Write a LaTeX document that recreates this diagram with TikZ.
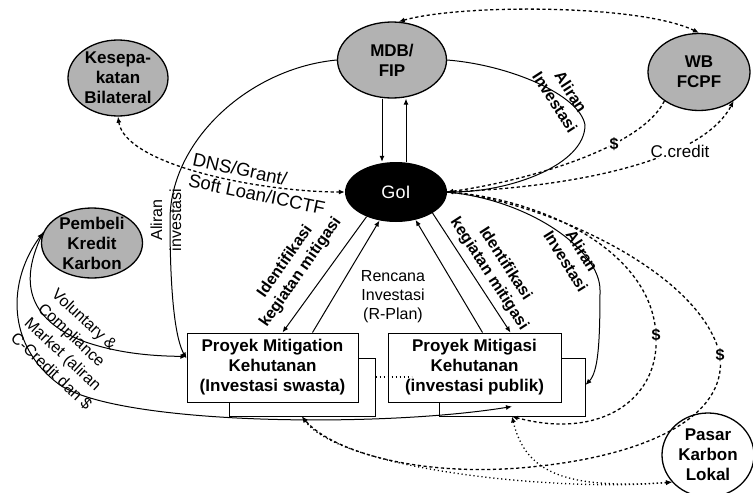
\documentclass[tikz,border=0pt]{standalone}
\usepackage{fontspec}
\setmainfont{Liberation Sans}
\usetikzlibrary{shapes.geometric,arrows.meta,positioning}

\begin{document}
\begin{tikzpicture}[x=1pt, y=-1pt, >={Latex[length=6pt,width=5pt]},
  bubble/.style={ellipse, draw, line width=1.3pt, fill=black!30, inner xsep=0pt, inner ysep=-5pt, align=center, font=\fontsize{17}{20}\selectfont\bfseries},
  proj/.style={draw, line width=1pt, fill=white, minimum width=171pt, minimum height=69pt, inner sep=0pt, align=center, font=\fontsize{17}{20}\selectfont\bfseries},
  projback/.style={draw, line width=1pt, fill=white, minimum width=146pt, minimum height=58pt, inner sep=0pt},
  flow/.style={line width=1pt},
  money/.style={line width=1.3pt, dash pattern=on 3.2pt off 2.6pt},
  dotline/.style={line width=1.3pt, dash pattern=on 1.2pt off 2.8pt},
  lbl/.style={align=center, inner sep=1pt, font=\fontsize{16}{19}\selectfont},
  lblb/.style={align=center, inner sep=1pt, font=\fontsize{16}{19}\selectfont\bfseries},
  dollar/.style={fill=white, inner sep=1pt, font=\fontsize{16}{19}\selectfont\bfseries}]
\useasboundingbox (0,0) rectangle (753,493);

% actors
\node[bubble, minimum width=100pt, minimum height=76pt] (kes) at (118,78) {Kesepa-\\katan\\Bilateral};
\node[bubble, minimum width=109pt, minimum height=76pt] (mdb) at (392,60) {MDB/\\FIP};
\node[bubble, minimum width=102pt, minimum height=77pt] (wb) at (699,72) {WB\\FCPF};
\node[bubble, minimum width=101pt, minimum height=70pt] (pem) at (92,243) {Pembeli\\Kredit\\Karbon};
\node[ellipse, fill=black, minimum width=102pt, minimum height=60pt, text=white, font=\fontsize{18}{20}\selectfont] (goi) at (396,192) {GoI};
\node[ellipse, draw, line width=1.3pt, fill=white, minimum width=92pt, minimum height=84pt, inner sep=0pt, align=center, font=\fontsize{17}{20}\selectfont\bfseries] (pasar) at (708,455) {Pasar\\Karbon\\Lokal};

% projects
\node[projback] (swastaB) at (302,387) {};
\node[projback] (publikB) at (512,387) {};
\node[proj] (swasta) at (272.5,367.5) {Proyek Mitigation\\Kehutanan\\(Investasi swasta)};
\node[proj, minimum width=173pt] (publik) at (474.5,367.5) {Proyek Mitigasi\\Kehutanan\\(investasi publik)};

% labels
\node[lbl, rotate=-12, align=left, font=\fontsize{18.5}{21}\selectfont] (dns) at (259,184) {DNS/Grant/\\Soft Loan/ICCTF};
\node[lbl, rotate=90] (al1) at (166,220) {Aliran\\investasi};
\node[lblb, rotate=-57] (al2) at (563,97) {Aliran\\Investasi};
\node[lblb, rotate=-58] (al3) at (574,256) {Aliran\\Investasi};
\node[lblb, rotate=55] (id1) at (293,267) {Identifikasi\\kegiatan mitigasi};
\node[lblb, rotate=-57] (id2) at (497,269) {Identifikasi\\kegiatan mitigasi};
\node[lbl] (rplan) at (393,297) {Rencana\\Investasi\\(R-Plan)};
\node[lbl, rotate=-43, align=left, font=\fontsize{16}{20}\selectfont] (vol) at (72,349) {Voluntary \&\\Compliance\\Market (aliran\\C-Credit dan \$};

% solid flows
\draw[flow, ->] ([xshift=-10pt]mdb.south) -- ([xshift=-14pt]goi.north);
\draw[flow, ->] ([xshift=10pt]goi.north) -- ([xshift=14pt]mdb.south);
\draw[flow, ->] (mdb.east) .. controls (510,65) and (580,95) .. (585,125) .. controls (585,165) and (510,192) .. (goi.east);
\draw[flow, ->] (goi.east) .. controls (530,200) and (600,250) .. (600,290) .. controls (600,345) and (598,372) .. ([yshift=2pt]publikB.east);
\draw[flow, ->] (mdb.west) .. controls (250,68) and (170,140) .. (170,220) .. controls (170,300) and (176,340) .. ([yshift=9pt]swasta.west);
\draw[flow, ->] (goi.220) -- ([xshift=10pt]swasta.north);
\draw[flow, ->] ([xshift=40pt]swasta.north) -- (goi.240);
\draw[flow, ->] ([xshift=8pt]publik.north) -- (goi.-55);
\draw[flow, ->] (goi.-30) -- ([xshift=36pt]publik.north);
\draw[flow, ->] (pem.168) .. controls (22,275) and (22,315) .. (80,340) .. controls (120,355) and (160,356) .. ([yshift=11pt]swasta.west);
\draw[flow, <->] (pem.168) .. controls (8,280) and (5,345) .. (60,385) .. controls (120,425) and (380,428) .. ([yshift=10pt]publikB.south);

% dashed flows
\draw[money, <->] (mdb.80) .. controls (460,4) and (640,4) .. (wb.north);
\draw[money, <->] (kes.south) .. controls (125,165) and (260,192) .. (goi.west);
\draw[money, ->] (wb.220) .. controls (640,150) and (520,182) .. node[dollar, pos=.33] {\$} (goi.east);
\draw[money, ->] (goi.east) .. controls (560,188) and (700,165) .. (wb.-40);
\node[lbl, fill=white, font=\fontsize{17}{20}\selectfont] (ccredit) at (680,151) {C.credit};
\draw[money, ->] (goi.east) .. controls (540,198) and (652,250) .. (656,335) node[dollar] {\$} .. controls (660,400) and (600,440) .. (publikB.south);
\draw[money, ->] (goi.east) .. controls (540,200) and (700,270) .. (720,355) node[dollar] {\$} .. controls (728,420) and (640,455) .. (540,466) .. controls (420,480) and (330,450) .. (swastaB.south);

% local market
\draw[dotline, <->] (swastaB.south) .. controls (340,470) and (560,492) .. (pasar.217);
\draw[dotline, <->] (publikB.south) .. controls (525,470) and (560,490) .. (pasar.217);
\draw[dotline] ([yshift=10pt]swastaB.east) -- ([xshift=24pt, yshift=-9.5pt]publik.west);

\end{tikzpicture}
\end{document}
